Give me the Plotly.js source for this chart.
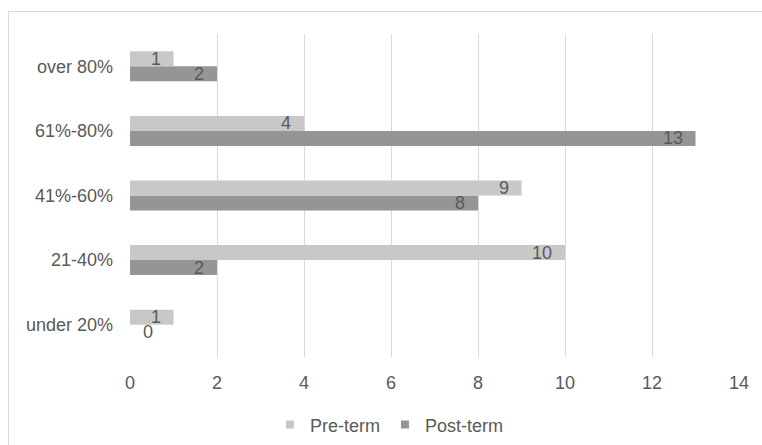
<!DOCTYPE html>
<html>
<head>
<meta charset="utf-8">
<script src="https://cdn.plot.ly/plotly-3.0.1.min.js"></script>
<style>
  html, body { margin: 0; padding: 0; background: #ffffff; }
  #wrap { position: relative; width: 762px; height: 445px; overflow: hidden; }
  #frame { position: absolute; left: 8px; top: 11px; width: 800px; height: 500px;
           border-left: 1px solid #d9d9d9; border-top: 1px solid #d9d9d9; box-sizing: border-box; }
  #chart { position: absolute; left: 0; top: 0; width: 762px; height: 445px; }
</style>
</head>
<body>
<div id="wrap">
  <div id="frame"></div>
  <div id="chart"></div>
</div>
<script>
const categories = ["under 20%", "21-40%", "41%-60%", "61%-80%", "over 80%"];
const preTerm = [1, 10, 9, 4, 1];
const postTerm = [0, 2, 8, 13, 2];
const xTicks = [0, 2, 4, 6, 8, 10, 12, 14];

const preColor = "#c8c8c8";
const postColor = "#959595";
const textColor = "#595959";
const fontFamily = "'Liberation Sans', Arial, sans-serif";
const bargap = 0.535;

const traces = [
  { type: "bar", orientation: "h", name: "Post-term", y: categories, x: postTerm,
    marker: { color: postColor }, showlegend: false, hoverinfo: "x+name" },
  { type: "bar", orientation: "h", name: "Pre-term", y: categories, x: preTerm,
    marker: { color: preColor }, showlegend: false, hoverinfo: "x+name" },
  { type: "scatter", mode: "markers", name: "Pre-term", x: [null], y: [null],
    marker: { symbol: "square", size: 8, color: preColor }, legendrank: 1 },
  { type: "scatter", mode: "markers", name: "Post-term", x: [null], y: [null],
    marker: { symbol: "square", size: 8, color: postColor }, legendrank: 2 }
];

const barHalf = (1 - bargap) / 4;
const annotations = [];
function addLabels(values, offset) {
  values.forEach((v, i) => {
    annotations.push({
      x: v, y: i + offset, xref: "x", yref: "y",
      text: String(v), showarrow: false,
      xanchor: v === 0 ? "left" : "right",
      xshift: v === 0 ? 11 : -11,
      font: { family: fontFamily, size: 18, color: textColor }
    });
  });
}
addLabels(preTerm, barHalf);
addLabels(postTerm, -barHalf);

const layout = {
  width: 762, height: 445,
  margin: { l: 130, r: 23, t: 34, b: 88, autoexpand: false },
  paper_bgcolor: "rgba(0,0,0,0)",
  plot_bgcolor: "rgba(0,0,0,0)",
  barmode: "group", bargap: bargap, bargroupgap: 0,
  font: { family: fontFamily, size: 18, color: textColor },
  xaxis: {
    range: [0, 14], tickvals: xTicks, ticktext: xTicks.map(String),
    showgrid: true, gridcolor: "#d9d9d9", gridwidth: 1,
    zeroline: false, showline: false, ticks: "",
    ticklabelstandoff: 13, fixedrange: true,
    tickfont: { family: fontFamily, size: 18, color: textColor }
  },
  yaxis: {
    type: "category", categoryorder: "array", categoryarray: categories,
    showgrid: false, zeroline: false, showline: false, ticks: "",
    ticklabelstandoff: 16, fixedrange: true,
    tickfont: { family: fontFamily, size: 18, color: textColor }
  },
  showlegend: true,
  legend: {
    orientation: "h", x: 0.426, xanchor: "center",
    y: -0.21, yanchor: "middle",
    font: { family: fontFamily, size: 18, color: textColor },
    itemwidth: 30, bgcolor: "rgba(0,0,0,0)"
  },
  annotations: annotations
};

Plotly.newPlot("chart", traces, layout, { displayModeBar: false, staticPlot: true });
</script>
</body>
</html>
